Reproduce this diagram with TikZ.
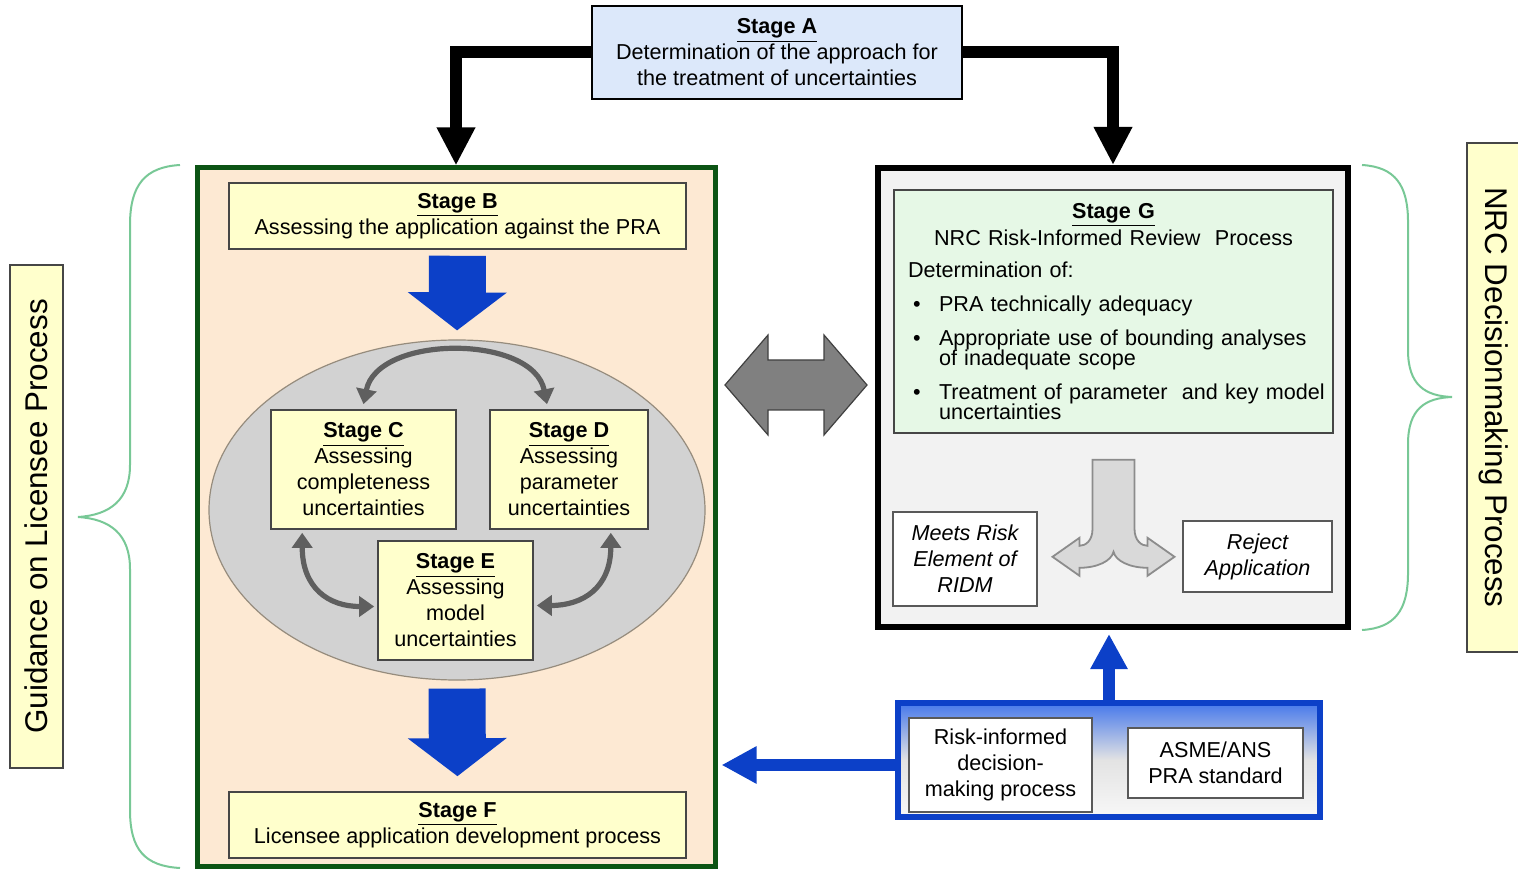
\documentclass[tikz,border=0pt]{standalone}
\usepackage{fontspec}
\setmainfont{Liberation Sans}
\usetikzlibrary{arrows.meta,calc,shapes.geometric}

\definecolor{peach}{RGB}{253,233,211}
\definecolor{paleyellow}{RGB}{255,255,204}
\definecolor{paleblue}{RGB}{220,232,250}
\definecolor{palegreen}{RGB}{230,248,230}
\definecolor{licgreen}{RGB}{12,84,20}
\definecolor{bracegreen}{RGB}{120,200,150}
\definecolor{nrcblue}{RGB}{12,64,200}
\definecolor{srctop}{RGB}{70,120,235}
\definecolor{boxline}{RGB}{70,70,70}
\definecolor{cycgray}{RGB}{95,95,95}
\definecolor{ellline}{RGB}{150,140,125}

\newcommand{\stagehd}[1]{\underline{\textbf{#1}}}
\newcommand{\gitem}[1]{\par\hangindent=15.5pt\hangafter=1\noindent\makebox[15.5pt][l]{\hspace{2.5pt}\textbullet}#1\par}

\begin{document}
\begin{tikzpicture}[x=0.5pt,y=-0.5pt,
    txt/.style={font=\fontsize{10.8}{13}\selectfont,align=center,inner sep=2pt},
    stagebox/.style={txt,draw=boxline,line width=0.8pt,fill=paleyellow},
    whitebox/.style={txt,draw=gray!70!black,line width=0.9pt,fill=white},
    itbox/.style={whitebox,font=\fontsize{10.8}{13}\selectfont\itshape},
    sidelabel/.style={font=\fontsize{15.7}{18}\selectfont,draw=boxline,line width=0.8pt,fill=paleyellow,minimum height=26.5pt},
    brace/.style={draw=bracegreen,line width=1pt},
    feed/.style={line width=6pt,-{Triangle[length=19pt,width=18pt]}},
    blockdown/.style={draw=nrcblue,line width=28.5pt,-{Triangle[length=19pt,width=48.5pt]}},
    thinblue/.style={draw=nrcblue,line width=6pt,-{Triangle[length=17.5pt,width=17.5pt]}},
    cyc/.style={draw=cycgray,line width=2.6pt,{Triangle[length=7.5pt,width=10pt]}-{Triangle[length=7.5pt,width=10pt]}}]

    \useasboundingbox (0,0) rectangle (1518,870);

    \node[draw=licgreen,line width=2.5pt,fill=peach,minimum width=259pt,minimum height=349pt] (lic) at (456,517) {};
    \node[draw=black,line width=3pt,fill=gray!10,minimum width=235pt,minimum height=229.5pt] (nrc) at (1113,397.5) {};

    \node[stagebox,draw=black,line width=1pt,fill=paleblue,minimum width=185pt,minimum height=46.5pt] (stA) at (777,52.5)
        {\stagehd{Stage A}\\Determination of the approach for\\the treatment of uncertainties};
    \node[stagebox,minimum width=228.5pt,minimum height=33pt] (stB) at (457.5,216)
        {\stagehd{Stage B}\\Assessing the application against the PRA};
    \node[ellipse,draw=ellline,line width=0.6pt,fill=gray!35,minimum width=248pt,minimum height=170pt] (ell) at (457,510) {};
    \node[stagebox,minimum width=92.5pt,minimum height=59.5pt] (stC) at (363.5,469.5)
        {\stagehd{Stage C}\\Assessing\\completeness\\uncertainties};
    \node[stagebox,minimum width=79pt,minimum height=59.5pt] (stD) at (569,469.5)
        {\stagehd{Stage D}\\Assessing\\parameter\\uncertainties};
    \node[stagebox,minimum width=77.5pt,minimum height=59.5pt] (stE) at (455.5,600.5)
        {\stagehd{Stage E}\\Assessing\\model\\uncertainties};
    \node[stagebox,minimum width=228.5pt,minimum height=33pt] (stF) at (457.5,825)
        {\stagehd{Stage F}\\Licensee application development process};

    \node[draw=boxline,line width=0.8pt,fill=palegreen,font=\fontsize{10.8}{10}\selectfont,
        minimum width=219.5pt,minimum height=121.5pt,text width=205.5pt,inner xsep=7pt] (stG) at (1113.5,311.5)
        {\lineskiplimit=-5pt\relax
         {\centering\stagehd{Stage G}\par\vspace{3.5pt}\mbox{NRC Risk-Informed Review\ \ Process}\par}
         \raggedright
         \vspace{6pt}\noindent Determination of:\par
         \vspace{7pt}\gitem{PRA technically adequacy}
         \vspace{7pt}\gitem{\mbox{Appropriate use of bounding analyses}\newline of inadequate scope}
         \vspace{7pt}\gitem{\mbox{Treatment of parameter\ \ and key model}\newline uncertainties}};
    \node[itbox,minimum width=72pt,minimum height=47pt] (meets) at (965,559) {Meets Risk\\Element of\\RIDM};
    \node[itbox,minimum width=74.5pt,minimum height=35.5pt] (reject) at (1257.5,556.5) {Reject\\Application};

    \node[draw=nrcblue,line width=3pt,top color=srctop,bottom color=gray!6,middle color=gray!22,
        minimum width=211pt,minimum height=57pt] (src) at (1109,760) {};
    \node[whitebox,minimum width=91.5pt,minimum height=47pt] (ridm) at (1000.5,765) {Risk-informed\\decision-\\making process};
    \node[whitebox,minimum width=87.5pt,minimum height=35pt] (asme) at (1215.5,763) {ASME/ANS\\PRA standard};

    \node[sidelabel,rotate=90,minimum width=251.5pt] (glab) at (36.5,516.5) {Guidance on Licensee Process};
    \node[sidelabel,rotate=-90,minimum width=254.5pt] (nlab) at (1493.5,397.5) {NRC Decisionmaking Process};

    \draw[brace] (180,165) .. controls (145,167) and (130,185) .. (130,225) -- (130,465)
        .. controls (130,500) and (110,515) .. (78,517) .. controls (110,519) and (130,534) .. (130,569)
        -- (130,810) .. controls (130,850) and (145,866) .. (180,868);
    \draw[brace] (1362,165) .. controls (1395,167) and (1408,185) .. (1408,222) -- (1408,350)
        .. controls (1408,385) and (1425,396) .. (1452,397) .. controls (1425,398) and (1408,409) .. (1408,444)
        -- (1408,573) .. controls (1408,610) and (1395,628) .. (1362,630);

    \draw[feed] (stA.west) -| (lic.north);
    \draw[feed] (stA.east) -| (nrc.north);

    \draw[blockdown,shorten <=3pt,shorten >=4.5pt] (stB.south) -- (ell.north);
    \draw[blockdown,shorten <=4pt,shorten >=7.5pt] (ell.south) -- (stF.north);

    \draw[cyc] ($(stC.north)+(0,-5)$) .. controls +(14,-70) and +(-14,-70) .. ($(stD.north)+(-22,-5)$);
    \draw[cyc] ($(stC.south west)+(32,3)$) .. controls +(0,55) and +(-46,0) .. ($(stE.west)+(-3,6)$);
    \draw[cyc] ($(stD.south east)+(-38,3)$) .. controls +(0,55) and +(46,0) .. ($(stE.east)+(3,5)$);

    \coordinate (dbl) at (796,385);
    \draw[shift={(dbl)},fill=gray,draw=gray!50!black,line width=0.6pt] (-71,0) -- (-28,-50) -- (-28,-25)
        -- (28,-25) -- (28,-50) -- (71,0) -- (28,50) -- (28,25) -- (-28,25) -- (-28,50) -- cycle;

    \coordinate (split) at ($(stG.south)+(0,26)$);
    \draw[shift={(split)},fill=gray!30,draw=gray!90,line width=0.9pt] (-21,0) -- (21,0) -- (21,69)
        .. controls (21,81) and (28,86) .. (34,86) -- (34,78) -- (61,97) -- (34,116) -- (34,108)
        .. controls (16,108) and (2,101) .. (0,92) .. controls (-2,101) and (-16,108) .. (-34,108)
        -- (-34,116) -- (-61,97) -- (-34,78) -- (-34,86) .. controls (-28,86) and (-21,81) .. (-21,69) -- cycle;

    \draw[thinblue,shorten >=2pt] (src.north) -- (src.north |- nrc.south);
    \draw[thinblue,shorten >=2pt] ([yshift=-2.5pt]src.west) -- ([yshift=-2.5pt]src.west -| lic.east);
\end{tikzpicture}
\end{document}
